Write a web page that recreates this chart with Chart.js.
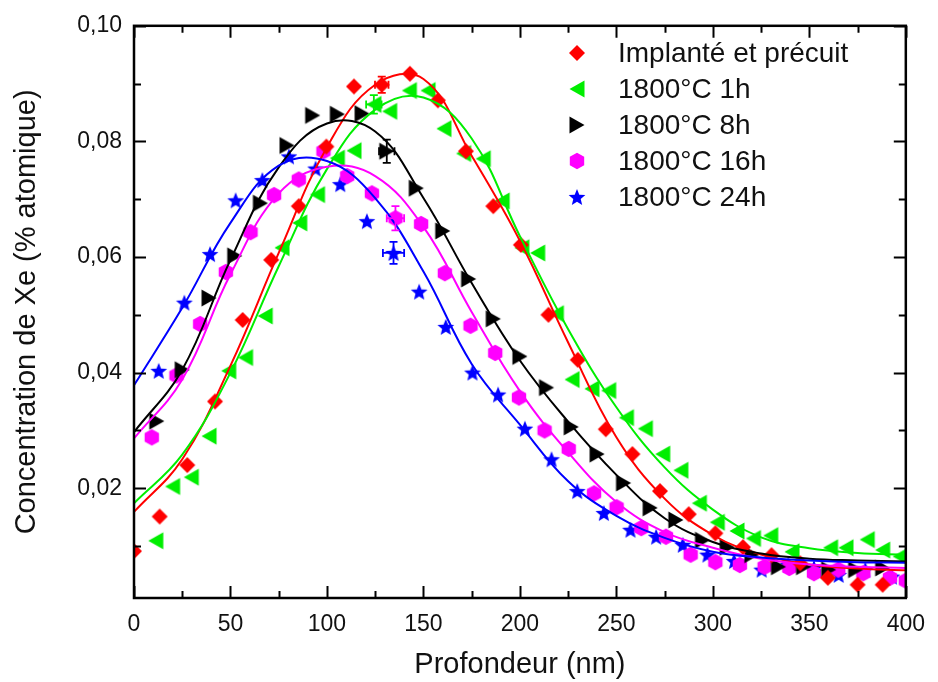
<!DOCTYPE html>
<html>
<head>
<meta charset="utf-8">
<script src="https://cdn.jsdelivr.net/npm/chart.js@4.4.0/dist/chart.umd.min.js"></script>
<style>
  html, body { margin: 0; padding: 0; background: #fff; }
</style>
</head>
<body>
<canvas id="xeChart" width="938" height="682"></canvas>
<script>
// series names and colours
var seriesNames = ["Implanté et précuit", "1800°C 1h", "1800°C 8h", "1800°C 16h", "1800°C 24h"];
var seriesColors = ["#ff0000", "#00ee00", "#000000", "#ff00ff", "#0000ff"];

// measured points (depth nm, concentration % at.)
var redX = [0, 13.3, 27.6, 42, 56.3, 71.1, 85.4, 99.7, 114, 128.4, 143, 157.5, 172, 186.2, 200.5, 214.8, 230, 244.5, 258.3, 272.6, 287.5, 301.3, 315.6, 330.4, 345.3, 359.6, 375, 388];
var redY = [0.0091, 0.0151, 0.0240, 0.0350, 0.0491, 0.0595, 0.0688, 0.0791, 0.0895, 0.0898, 0.0917, 0.0871, 0.0783, 0.0688, 0.0621, 0.0500, 0.0422, 0.0302, 0.0259, 0.0195, 0.0155, 0.0122, 0.0098, 0.0084, 0.0070, 0.0045, 0.0033, 0.0033];

var greenX = [11.3, 20, 29.7, 38.9, 49.1, 57.8, 68, 76.7, 85.9, 95.1, 105.4, 114, 124.3, 132.5, 142.7, 152.4, 160.6, 170.8, 181, 190.8, 201, 209.2, 218.9, 227, 237.3, 246, 255.2, 265, 274, 283.4, 293, 302.3, 312.5, 321, 330, 341, 361, 369, 380, 388, 397];
var greenY = [0.0109, 0.0203, 0.0219, 0.0290, 0.0403, 0.0426, 0.0498, 0.0616, 0.0659, 0.0708, 0.0771, 0.0784, 0.0864, 0.0852, 0.0888, 0.0888, 0.0822, 0.0779, 0.0770, 0.0697, 0.0616, 0.0607, 0.0502, 0.0388, 0.0372, 0.0369, 0.0322, 0.0303, 0.0259, 0.0231, 0.0174, 0.0141, 0.0126, 0.0113, 0.0118, 0.0090, 0.0097, 0.0097, 0.0111, 0.0093, 0.0082];

var blackX = [11.8, 25, 38.9, 52.2, 65.5, 79.3, 92.6, 105.4, 118.2, 131, 146.3, 160, 173.4, 186.2, 200, 213.8, 226.6, 240, 253.7, 267.5, 280.8, 294.6, 307.4, 320.2, 334, 347, 360, 374, 388];
var blackY = [0.0316, 0.0405, 0.0529, 0.0602, 0.0693, 0.0793, 0.0845, 0.0847, 0.0848, 0.0783, 0.0719, 0.0645, 0.0562, 0.0493, 0.0428, 0.0374, 0.0306, 0.0259, 0.0209, 0.0166, 0.0145, 0.0110, 0.0098, 0.0085, 0.0064, 0.0064, 0.0059, 0.0059, 0.0062];

var magentaX = [9.2, 22, 34.3, 47.6, 60.4, 72.6, 85.4, 98.2, 110.5, 123.3, 135.5, 148.8, 161.1, 174.4, 187.2, 199.5, 212.8, 225.3, 238.4, 250.1, 262.9, 275.7, 288.5, 301.3, 314, 326.8, 339.6, 352.4, 365, 378, 391.8, 400];
var magentaY = [0.0288, 0.0395, 0.0484, 0.0574, 0.0643, 0.0707, 0.0734, 0.0783, 0.0740, 0.0710, 0.0667, 0.0657, 0.0572, 0.0481, 0.0434, 0.0357, 0.0300, 0.0268, 0.0191, 0.0167, 0.0131, 0.0116, 0.0085, 0.0072, 0.0067, 0.0064, 0.0062, 0.0053, 0.0059, 0.0053, 0.0045, 0.0040];

var blueX = [12.8, 26.1, 39.4, 52.7, 66.5, 80.3, 94.1, 106.9, 120.7, 134.5, 147.8, 161.6, 175.4, 188.7, 202.6, 216.4, 229.7, 243.5, 257.3, 270.6, 284.4, 297.2, 311, 325.3, 339.1, 352.4, 365.2, 379, 392.8];
var blueY = [0.0403, 0.0521, 0.0605, 0.0698, 0.0733, 0.0774, 0.0753, 0.0726, 0.0662, 0.0607, 0.0540, 0.0479, 0.0400, 0.0362, 0.0303, 0.0250, 0.0195, 0.0157, 0.0128, 0.0116, 0.0102, 0.0085, 0.0074, 0.0059, 0.0067, 0.0062, 0.0050, 0.0059, 0.0047];

// fitted curves, every 25 nm
var fitX = [0, 25, 50, 75, 100, 125, 150, 175, 200, 225, 250, 275, 300, 325, 350, 375, 400];
var redFit = [0.0159, 0.0250, 0.0412, 0.0607, 0.0790, 0.0898, 0.0908, 0.0775, 0.0628, 0.0452, 0.0288, 0.0182, 0.0119, 0.0085, 0.0068, 0.0061, 0.0058];
var greenFit = [0.0174, 0.0258, 0.0400, 0.0584, 0.0752, 0.0855, 0.0876, 0.0805, 0.0636, 0.0475, 0.0340, 0.0236, 0.0163, 0.0115, 0.0096, 0.0088, 0.0085];
var blackFit = [0.0297, 0.0405, 0.0595, 0.0755, 0.0831, 0.0817, 0.0702, 0.0555, 0.0421, 0.0315, 0.0223, 0.0148, 0.0107, 0.0087, 0.0078, 0.0075, 0.0073];
var magentaFit = [0.0286, 0.0388, 0.0570, 0.0710, 0.0756, 0.0740, 0.0652, 0.0505, 0.0368, 0.0262, 0.0176, 0.0124, 0.0097, 0.0078, 0.0068, 0.0064, 0.0062];
var blueFit = [0.0378, 0.0512, 0.0659, 0.0758, 0.0766, 0.0702, 0.0575, 0.0415, 0.0310, 0.0212, 0.0152, 0.0114, 0.0090, 0.0080, 0.0075, 0.0072, 0.0071];

// one point per series carries error bars
var errX = [128.4, 124.3, 131, 135.5, 134.5];
var errY = [0.0898, 0.0864, 0.0783, 0.0667, 0.0607];
var errDx = [3.5, 4, 4, 4.5, 5.5];
var errDy = [0.0014, 0.0016, 0.0020, 0.0021, 0.0019];

// axis ticks
var xTicks = [0, 50, 100, 150, 200, 250, 300, 350, 400];
var yTicks = [0.02, 0.04, 0.06, 0.08, 0.10];

var FONT = "'Liberation Sans', Arial, sans-serif";
var TXT = "#111";

function makeMarker(kind, color) {
    var c = document.createElement('canvas');
    c.width = 20; c.height = 20;
    var g = c.getContext('2d');
    g.fillStyle = color;
    g.translate(10, 10);
    g.beginPath();
    if (kind == 'diamond') {
        g.moveTo(0, -8); g.lineTo(8, 0); g.lineTo(0, 8); g.lineTo(-8, 0);
    } else if (kind == 'left') {
        g.moveTo(-7.5, 0); g.lineTo(7.5, -8.5); g.lineTo(7.5, 8.5);
    } else if (kind == 'right') {
        g.moveTo(7.5, 0); g.lineTo(-7.5, -8.5); g.lineTo(-7.5, 8.5);
    } else if (kind == 'hex') {
        for (var i = 0; i < 6; i++) {
            var a = -Math.PI / 2 + i * Math.PI / 3;
            g.lineTo(Math.cos(a) * 8.3, Math.sin(a) * 8.3);
        }
    } else {
        for (var j = 0; j < 10; j++) {
            var r = j % 2 == 0 ? 8.8 : 3.9;
            var b = -Math.PI / 2 + j * Math.PI / 5;
            g.lineTo(Math.cos(b) * r, Math.sin(b) * r + 0.8);
        }
    }
    g.closePath();
    g.fill();
    return c;
}

var markers = [
    makeMarker('diamond', seriesColors[0]),
    makeMarker('left', seriesColors[1]),
    makeMarker('right', seriesColors[2]),
    makeMarker('hex', seriesColors[3]),
    makeMarker('star', seriesColors[4])
];

function pts(xs, ys) {
    return xs.map(function (x, i) { return { x: x, y: ys[i] }; });
}

var pointSets = [pts(redX, redY), pts(greenX, greenY), pts(blackX, blackY), pts(magentaX, magentaY), pts(blueX, blueY)];
var fitSets = [redFit, greenFit, blackFit, magentaFit, blueFit];

var datasets = [];
pointSets.forEach(function (d, i) {
    datasets.push({
        type: 'scatter',
        label: seriesNames[i],
        data: d,
        pointStyle: markers[i],
        pointRadius: 8,
        showLine: false,
        clip: 0,
        order: 10
    });
});
fitSets.forEach(function (f, i) {
    datasets.push({
        type: 'line',
        label: seriesNames[i] + ' fit',
        data: pts(fitX, f),
        borderColor: seriesColors[i],
        borderWidth: 2,
        pointRadius: 0,
        tension: 0.4,
        fill: false,
        clip: 0,
        order: 5 - i
    });
});

// frame with inward ticks on all four sides
var framePlugin = {
    id: 'frame',
    afterDraw: function (chart) {
        var a = chart.chartArea, g = chart.ctx;
        var xs = chart.scales.x, ys = chart.scales.y;
        g.save();
        g.strokeStyle = '#000';
        g.lineWidth = 2;
        g.beginPath();
        for (var v = 0; v <= 400; v += 25) {
            var px = Math.round(xs.getPixelForValue(v)) + 0.5;
            var len = v % 50 == 0 ? 12 : 7;
            g.moveTo(px, a.bottom); g.lineTo(px, a.bottom - len);
            g.moveTo(px, a.top); g.lineTo(px, a.top + len);
        }
        for (var k = 1; k <= 10; k++) {
            var val = k / 100;
            var py = Math.round(ys.getPixelForValue(val)) + 0.5;
            var l2 = k % 2 == 0 ? 12 : 7;
            g.moveTo(a.left, py); g.lineTo(a.left + l2, py);
            g.moveTo(a.right, py); g.lineTo(a.right - l2, py);
        }
        g.stroke();
        g.lineWidth = 2.5;
        g.strokeRect(a.left, a.top, a.right - a.left, a.bottom - a.top);
        g.restore();
    }
};

var errorPlugin = {
    id: 'errbars',
    afterDatasetsDraw: function (chart) {
        var g = chart.ctx, xs = chart.scales.x, ys = chart.scales.y;
        g.save();
        g.lineWidth = 1.8;
        errX.forEach(function (x, i) {
            var cx = xs.getPixelForValue(x), cy = ys.getPixelForValue(errY[i]);
            var x0 = xs.getPixelForValue(x - errDx[i]), x1 = xs.getPixelForValue(x + errDx[i]);
            var y0 = ys.getPixelForValue(errY[i] + errDy[i]), y1 = ys.getPixelForValue(errY[i] - errDy[i]);
            g.strokeStyle = seriesColors[i];
            g.beginPath();
            g.moveTo(cx, y0); g.lineTo(cx, y1);
            g.moveTo(cx - 4, y0); g.lineTo(cx + 4, y0);
            g.moveTo(cx - 4, y1); g.lineTo(cx + 4, y1);
            g.moveTo(x0, cy); g.lineTo(x1, cy);
            g.moveTo(x0, cy - 4); g.lineTo(x0, cy + 4);
            g.moveTo(x1, cy - 4); g.lineTo(x1, cy + 4);
            g.stroke();
        });
        g.restore();
    }
};

// legend inside the plot, top right
var legendPlugin = {
    id: 'insideLegend',
    afterDraw: function (chart) {
        var g = chart.ctx;
        g.save();
        g.font = '28px ' + FONT;
        g.fillStyle = TXT;
        g.textBaseline = 'middle';
        seriesNames.forEach(function (name, i) {
            var y = 53 + i * 36;
            g.drawImage(markers[i], 577 - 10, y - 10);
            g.fillText(name, 618, y + 1);
        });
        g.restore();
    }
};

var ctx = document.getElementById("xeChart").getContext('2d');
var xeChart = new Chart(ctx, {
    type: 'scatter',
    data: { datasets: datasets },
    options: {
        responsive: false,
        animation: false,
        events: [],
        layout: { autoPadding: false, padding: { top: 24, right: 22, left: 0, bottom: 0 } },
        plugins: {
            legend: { display: false },
            tooltip: { enabled: false }
        },
        scales: {
            x: {
                type: 'linear',
                min: 0,
                max: 400,
                grid: { display: false, drawTicks: false },
                border: { display: false },
                afterBuildTicks: function (s) { s.ticks = xTicks.map(function (v) { return { value: v }; }); },
                afterFit: function (s) { s.height = 84; },
                ticks: {
                    padding: 13,
                    color: TXT,
                    font: { family: FONT, size: 23 },
                    maxRotation: 0
                },
                title: {
                    display: true,
                    text: 'Profondeur (nm)',
                    color: TXT,
                    font: { family: FONT, size: 29 },
                    padding: 0
                }
            },
            y: {
                type: 'linear',
                min: 0.001,
                max: 0.1,
                grid: { display: false, drawTicks: false },
                border: { display: false },
                afterBuildTicks: function (s) { s.ticks = yTicks.map(function (v) { return { value: v }; }); },
                afterFit: function (s) { s.width = 134; },
                ticks: {
                    padding: 12,
                    color: TXT,
                    font: { family: FONT, size: 23 },
                    callback: function (v) { return v.toFixed(2).replace('.', ','); }
                },
                title: {
                    display: true,
                    text: 'Concentration de Xe (% atomique)',
                    color: TXT,
                    font: { family: FONT, size: 29 },
                    padding: { top: 10, bottom: 0 }
                }
            }
        }
    },
    plugins: [errorPlugin, framePlugin, legendPlugin]
});
</script>
</body>
</html>
